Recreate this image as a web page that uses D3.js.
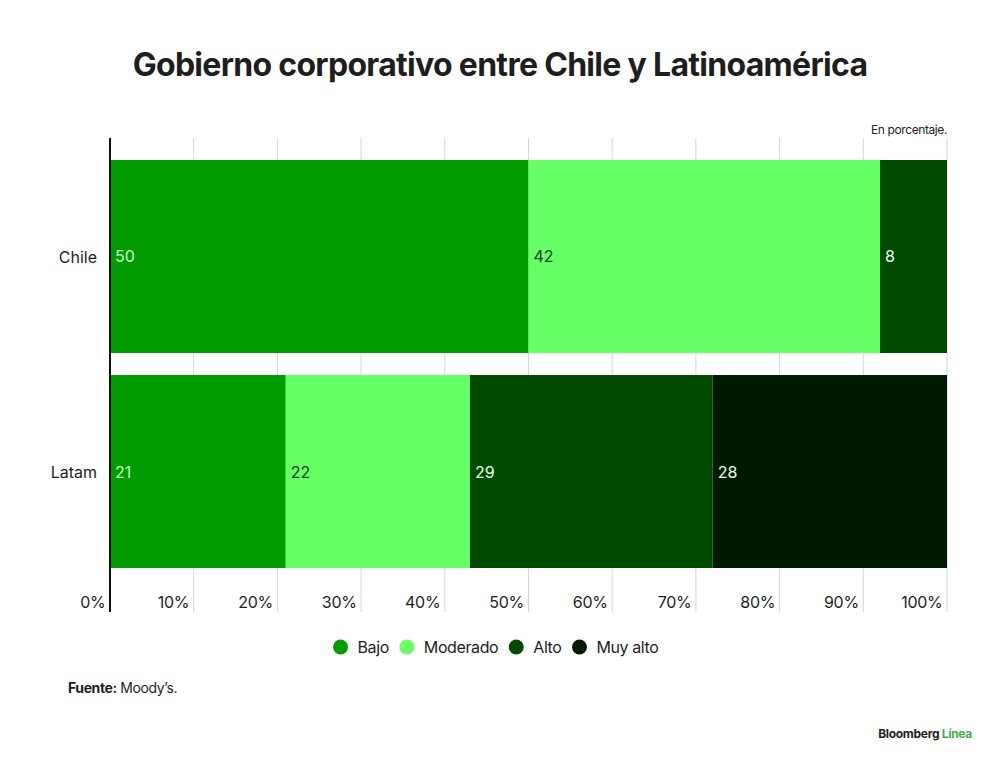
<!DOCTYPE html>
<html lang="es">
<head>
	<meta charset="UTF-8">
	<title>Gobierno corporativo entre Chile y Latinoamérica</title>
	<style>
		body { margin: 0; background: #fff; }
		text { font-family: Inter, "Noto Sans", sans-serif; }
	</style>
</head>
<body>
	<script src="https://d3js.org/d3.v7.min.js"></script>
	<script type="text/javascript">
		var width = 1000;
		var height = 762;

		// datos
		var categories = ["Chile", "Latam"];
		var seriesNames = ["Bajo", "Moderado", "Alto", "Muy alto"];
		var bajo = [50, 21];
		var moderado = [42, 22];
		var alto = [8, 29];
		var muyAlto = [0, 28];
		var tickValues = [0, 10, 20, 30, 40, 50, 60, 70, 80, 90, 100];

		var colors = ["#009c00", "#66ff66", "#004a00", "#001a00"];
		var labelColors = ["#c6ffc6", "#0b3d0b", "#e6ffe6", "#e6ffe6"];

		var svg = d3.select("body").append("svg").attr("width", width).attr("height", height);
		var padding = {left: 110, right: 53, top: 138, bottom: 150};

		var rows = categories.map(function(c, i) {
			return {cat: c, Bajo: bajo[i], Moderado: moderado[i], Alto: alto[i], "Muy alto": muyAlto[i]};
		});
		var stacked = d3.stack().keys(seriesNames)(rows);

		var XScale = d3.scaleLinear().domain([0, 100]).range([padding.left, width - padding.right]);
		var YScale = d3.scaleBand().domain(categories).range([160, 568]).paddingInner(0.1025).paddingOuter(0);

		// titulo
		svg.append("text")
			.attr("x", 500).attr("y", 76)
			.attr("text-anchor", "middle")
			.attr("font-size", 32).attr("font-weight", 700)
			.attr("letter-spacing", -0.7)
			.attr("fill", "#1e1e1e")
			.text("Gobierno corporativo entre Chile y Latinoamérica");

		svg.append("text")
			.attr("x", XScale(100)).attr("y", 134)
			.attr("text-anchor", "end")
			.attr("font-size", 12).attr("letter-spacing", -0.4)
			.attr("fill", "#222")
			.text("En porcentaje.");

		// grilla
		svg.append("g").selectAll("line")
			.data(tickValues.slice(1))
			.enter().append("line")
			.attr("x1", function(d) { return XScale(d); })
			.attr("x2", function(d) { return XScale(d); })
			.attr("y1", padding.top).attr("y2", height - padding.bottom)
			.attr("stroke", "#d6d6d6").attr("stroke-width", 1);

		// barras
		var layer = svg.append("g").selectAll("g")
			.data(stacked)
			.enter().append("g")
			.attr("fill", function(d, i) { return colors[i]; });

		layer.selectAll("rect")
			.data(function(d) { return d.filter(function(p) { return p[1] - p[0] > 0; }); })
			.enter().append("rect")
			.attr("x", function(d) { return XScale(d[0]); })
			.attr("y", function(d) { return YScale(d.data.cat); })
			.attr("width", function(d) { return XScale(d[1]) - XScale(d[0]); })
			.attr("height", YScale.bandwidth());

		stacked.forEach(function(s, i) {
			svg.append("g").selectAll("text")
				.data(s.filter(function(p) { return p[1] - p[0] > 0; }))
				.enter().append("text")
				.attr("x", function(d) { return XScale(d[0]) + 5; })
				.attr("y", function(d) { return YScale(d.data.cat) + YScale.bandwidth() / 2 + 6; })
				.attr("font-size", 16)
				.attr("fill", labelColors[i])
				.text(function(d) { return d[1] - d[0]; });
		});

		// eje cero
		svg.append("line")
			.attr("x1", XScale(0)).attr("x2", XScale(0))
			.attr("y1", padding.top).attr("y2", height - padding.bottom)
			.attr("stroke", "#111").attr("stroke-width", 2);

		// etiquetas eje x
		var XAxis = d3.axisBottom(XScale).tickValues(tickValues).tickSize(0)
			.tickFormat(function(d) { return d + "%"; });
		var gx = svg.append("g")
			.attr("transform", "translate(0," + (height - padding.bottom - 20) + ")")
			.call(XAxis);
		gx.select(".domain").remove();
		gx.selectAll("text")
			.attr("text-anchor", "end")
			.attr("dx", -5).attr("dy", 0).attr("y", 16)
			.attr("font-size", 16).attr("fill", "#1e1e1e")
			.attr("font-family", "Inter, sans-serif").attr("letter-spacing", -0.3);

		// etiquetas eje y
		var YAxis = d3.axisLeft(YScale).tickSize(0);
		var gy = svg.append("g")
			.attr("transform", "translate(" + (padding.left - 10) + ",0)")
			.call(YAxis);
		gy.select(".domain").remove();
		gy.selectAll("text")
			.attr("font-size", 16).attr("fill", "#1e1e1e")
			.attr("font-family", "Inter, sans-serif").attr("dy", "0.4em");

		// leyenda
		var legend = svg.append("g");
		var lx = 0;
		seriesNames.forEach(function(n, i) {
			var g = legend.append("g").attr("transform", "translate(" + lx + ",0)");
			g.append("circle").attr("cx", 7).attr("cy", 0).attr("r", 7.5).attr("fill", colors[i]);
			var t = g.append("text").attr("x", 24).attr("y", 6)
				.attr("font-size", 16).attr("fill", "#1e1e1e").attr("letter-spacing", -0.4)
				.text(n);
			lx += 24 + t.node().getComputedTextLength() + 11;
		});
		var lw = lx - 11;
		legend.attr("transform", "translate(" + (496 - lw / 2) + ",647)");

		// fuente
		var fuente = svg.append("text")
			.attr("x", 68).attr("y", 693)
			.attr("font-size", 14).attr("fill", "#1e1e1e").attr("letter-spacing", -0.4);
		fuente.append("tspan").attr("font-weight", 700).text("Fuente:");
		fuente.append("tspan").text(" Moody’s.");

		var logo = svg.append("text")
			.attr("x", 972).attr("y", 738)
			.attr("text-anchor", "end")
			.attr("font-size", 12).attr("font-weight", 700).attr("letter-spacing", -0.3)
			.attr("fill", "#1e1e1e");
		logo.append("tspan").text("Bloomberg ");
		logo.append("tspan").attr("fill", "#3cb043").text("Línea");
	</script>
</body>
</html>
